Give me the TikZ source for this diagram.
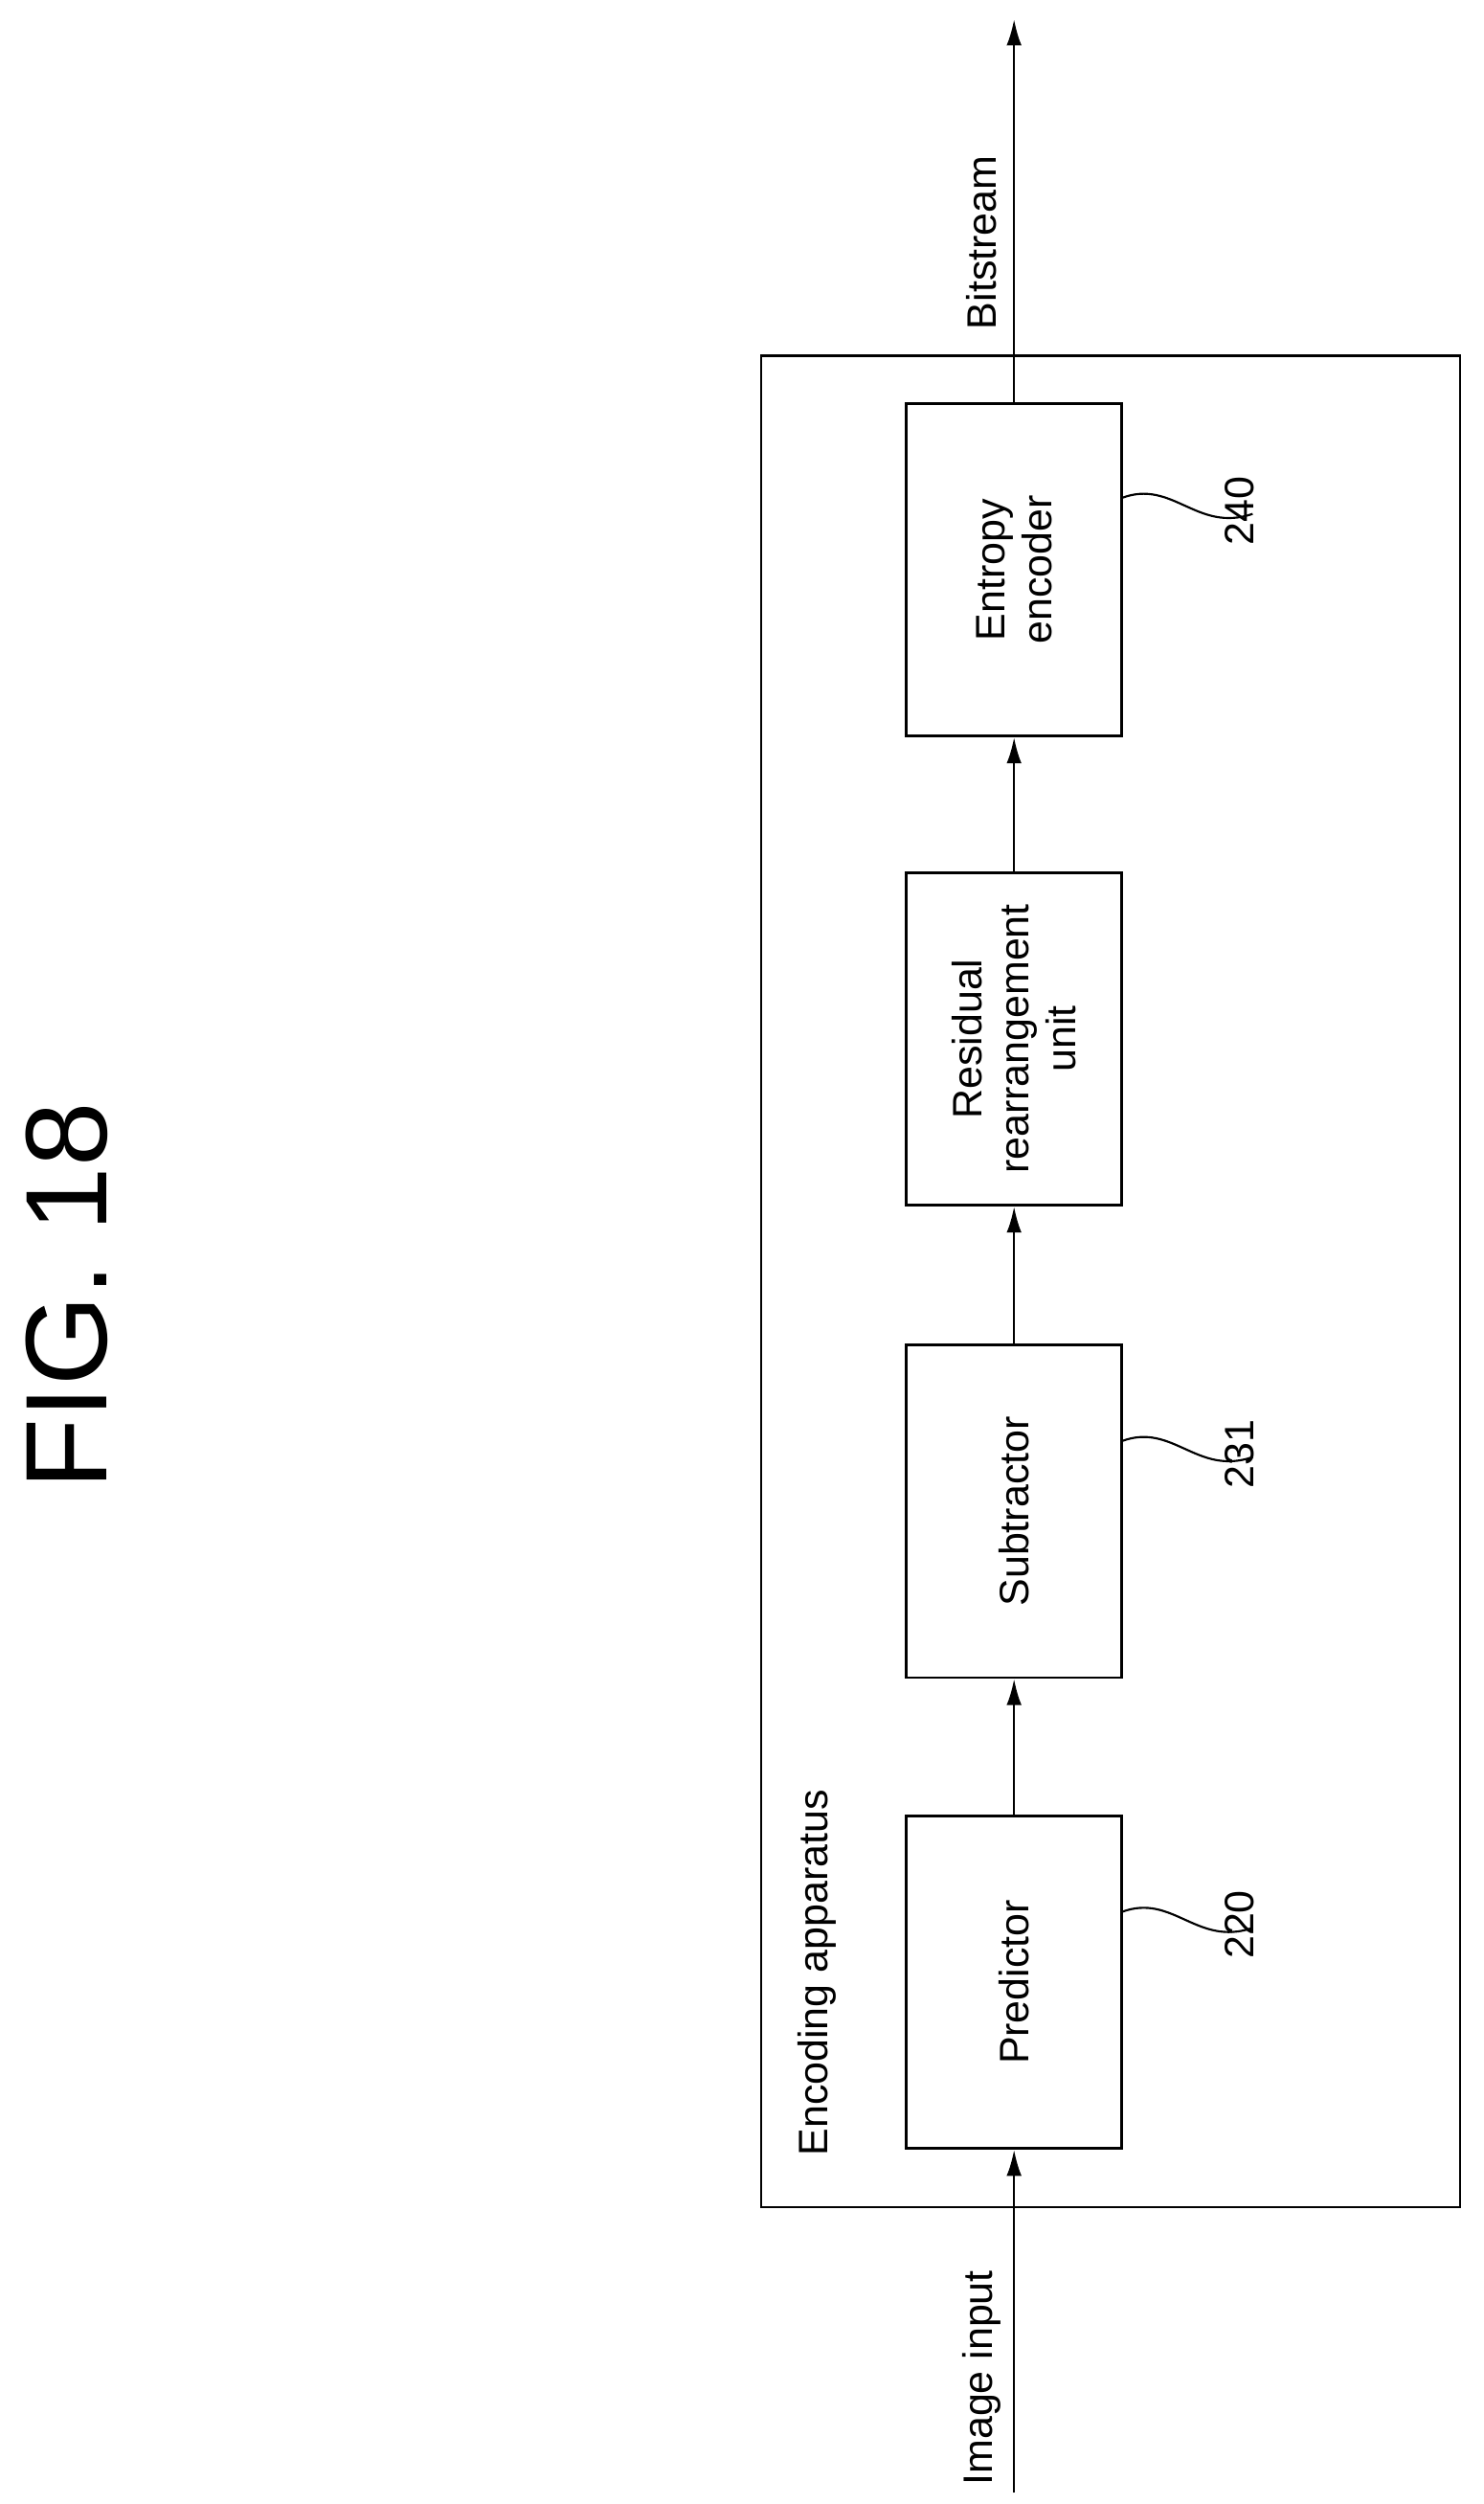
\documentclass[tikz,border=0pt]{standalone}
\usepackage{fontspec}
\setmainfont{Liberation Sans}
\usetikzlibrary{arrows.meta}
\begin{document}
\begin{tikzpicture}[x=0.03cm,y=-0.03cm,
  blk/.style={draw,line width=1.3pt,minimum width=6.25cm,minimum height=4.05cm,rotate=90,align=center,font=\fontsize{22}{25}\selectfont},
  lbl/.style={rotate=90,font=\fontsize{22}{25}\selectfont},
  ar/.style={line width=1.3pt,-{Latex[length=14pt,width=8pt]}},
  lead/.style={line width=1.1pt}]
\useasboundingbox (0,0) rectangle (930,1569);
\node[draw,line width=1.3pt,minimum width=34.8cm,minimum height=13.14cm,rotate=90] (outer) at (696,803) {};
\node[blk] (ent) at (635.5,357) {Entropy\\encoder};
\node[blk] (res) at (635.5,651) {Residual\\rearrangement\\unit};
\node[blk] (sub) at (635.5,947) {Subtractor};
\node[blk] (pre) at (635.5,1242) {Predictor};
\coordinate (in) at (635.5,1562);
\coordinate (out) at (635.5,12);
\draw[ar] (in) -- (pre.west);
\draw[ar] (pre.east) -- (sub.west);
\draw[ar] (sub.east) -- (res.west);
\draw[ar] (res.east) -- (ent.west);
\draw[ar] (ent.east) -- (out);
\node[lbl] (img) at (615,1490) {Image input};
\node[lbl] (bit) at (615,152) {Bitstream};
\node[lbl,anchor=west] (enc) at (512,1355) {Encoding apparatus};
\node[rotate=90,font=\fontsize{62}{70}\selectfont] (fig) at (42,812) {FIG. 18};
\foreach \n/\y/\t in {e/312/240,s/903/231,p/1198/220}{
  \coordinate (a\n) at (703,\y);
  \coordinate (b\n) at (785,\y+10);
  \draw[lead] (a\n) .. controls (735,\y-12) and (750,\y+22) .. (b\n);
  \node[lbl,anchor=south] (n\n) at (790,\y+8) {\t};
}
\end{tikzpicture}
\end{document}
